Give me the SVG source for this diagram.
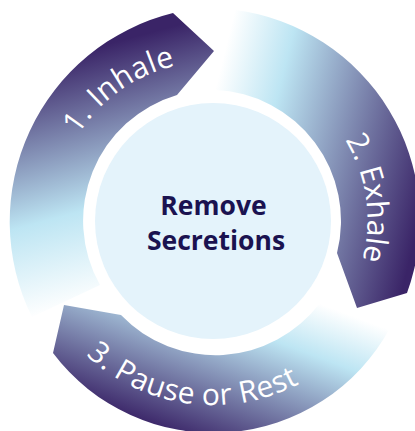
<svg xmlns="http://www.w3.org/2000/svg" width="415" height="431" viewBox="0 0 415 431">
<style>
.lbl{font-family:"Open Sans","Liberation Sans",sans-serif;font-size:30px;fill:#fff;font-weight:400}
.ctr{font-family:"Open Sans","Liberation Sans",sans-serif;font-size:26.5px;font-weight:700;fill:#1a1250;text-anchor:middle}
</style>
<defs>
<linearGradient id="g1" gradientUnits="userSpaceOnUse" x1="130" y1="38" x2="194" y2="275"><stop offset="0" stop-color="#3a2467"/><stop offset=".63" stop-color="#bde5f3"/><stop offset="1" stop-color="#fff"/></linearGradient>
<linearGradient id="g2" gradientUnits="userSpaceOnUse" x1="225" y1="50" x2="448" y2="105"><stop offset="0" stop-color="#fff"/><stop offset=".27" stop-color="#bde5f3"/><stop offset="1" stop-color="#3a2467"/></linearGradient>
<linearGradient id="g3" gradientUnits="userSpaceOnUse" x1="323" y1="305" x2="262" y2="468"><stop offset="0" stop-color="#fff"/><stop offset=".29" stop-color="#bde5f3"/><stop offset="1" stop-color="#3a2467"/></linearGradient>
<path id="p1" d="M78,135A158,158 0 0 1 273,74"/>
<path id="p2" d="M345,140A155,155 0 0 1 273,363"/>
<path id="p3" d="M86,355A185,185 0 0 0 363,328"/>
</defs>
<g id="connectors"></g>
<g id="node-inhale">
<path fill="url(#g1)" d="M173,13L214,51L177,95A131,131 0 0 0 100,285L32,317A215,215 0 0 1 173,13Z"/>
<text class="lbl" letter-spacing=".4"><textPath href="#p1">1. Inhale</textPath></text>
</g>
<g id="node-exhale">
<path fill="url(#g2)" d="M235,10L215,90A131,131 0 0 1 337,253L357,308L407,293A212,212 0 0 0 235,10Z"/>
<text class="lbl"><textPath href="#p2">2. Exhale</textPath></text>
</g>
<g id="node-pause">
<path fill="url(#g3)" d="M64,305L121,315A131,131 0 0 0 320,303L390,328A201,201 0 0 1 53,353Z"/>
<text class="lbl" letter-spacing=".4"><textPath href="#p3">3. Pause or Rest</textPath></text>
</g>
<g id="node-center">
<circle cx="213" cy="221" r="118" fill="#e4f3fb"/>
<text class="ctr" x="213.500" y="215">Remove</text>
<text class="ctr" x="216" y="250">Secretions</text>
</g>
</svg>
